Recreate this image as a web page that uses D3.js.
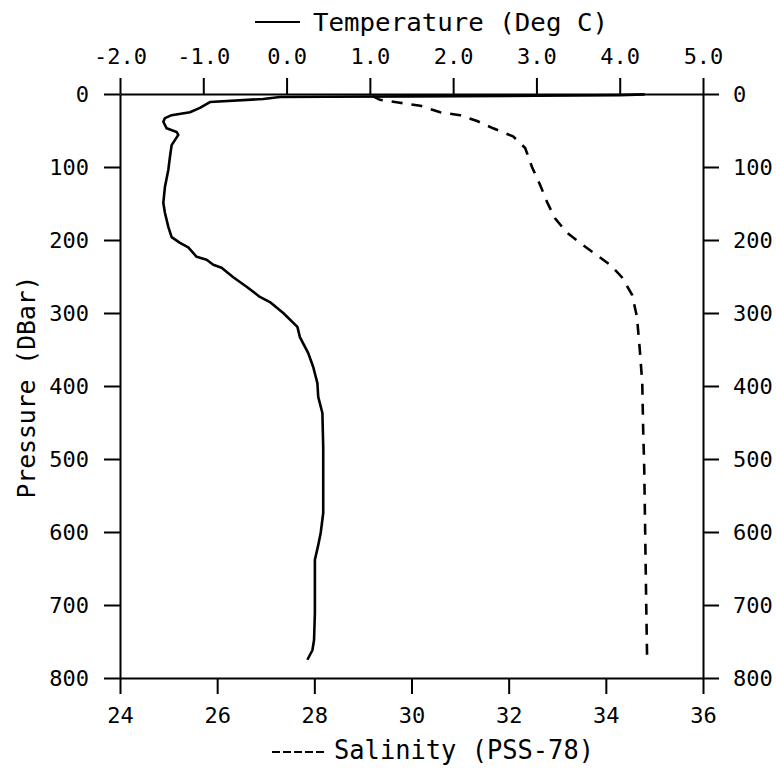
<!DOCTYPE html>
<html>
<head>
<meta charset="utf-8">
<script src="https://cdn.jsdelivr.net/npm/d3@7"></script>
<style>
  html, body { margin: 0; padding: 0; background: #fff; }
  svg text { font-family: "DejaVu Sans Mono", "Liberation Mono", monospace; fill: #000; }
</style>
</head>
<body>
<svg id="chart" width="776" height="769"></svg>
<script>
// ---- Data ----
const tempTicks = [-2, -1, 0, 1, 2, 3, 4, 5];
const salTicks = [24, 26, 28, 30, 32, 34, 36];
const pressureTicks = [0, 100, 200, 300, 400, 500, 600, 700, 800];

const tempPressure = [0.5, 1.5, 2.5, 3.2, 3.8, 4.1, 6.8, 11, 19, 25, 29, 33, 38, 47, 52, 56, 70, 86, 104, 127, 149, 163, 182, 196, 204, 210, 223, 227, 234, 238, 251, 264, 278, 285, 300, 319, 333, 355, 374, 396, 415, 437, 484, 529, 574, 601, 618, 638, 666, 711, 748, 762, 775];
const tempValues = [4.3, 4.0, 3.0, 1.5, 0.5, -0.08, -0.28, -0.92, -1.04, -1.16, -1.38, -1.46, -1.48, -1.44, -1.32, -1.30, -1.38, -1.40, -1.42, -1.46, -1.48, -1.46, -1.42, -1.38, -1.28, -1.18, -1.08, -0.96, -0.88, -0.78, -0.64, -0.48, -0.32, -0.20, -0.04, 0.13, 0.16, 0.26, 0.32, 0.37, 0.38, 0.43, 0.44, 0.44, 0.44, 0.41, 0.38, 0.34, 0.34, 0.34, 0.33, 0.31, 0.25];

const salPressure = [3, 8, 12, 16, 25, 29, 37, 47, 58, 74, 100, 125, 148, 170, 190, 204, 221, 234, 251, 275, 305, 351, 396, 464, 511, 601, 693, 775];
const salValues = [29.2, 29.35, 29.76, 30.18, 30.59, 31.00, 31.35, 31.68, 32.09, 32.34, 32.48, 32.65, 32.79, 32.95, 33.20, 33.47, 33.82, 34.09, 34.33, 34.54, 34.64, 34.70, 34.75, 34.77, 34.79, 34.81, 34.83, 34.85];

// ---- Layout ----
const L = 120, R = 703, T = 94, B = 678;
const svg = d3.select("#chart");

const xT = d3.scaleLinear().domain([-2, 5]).range([L, R]);
const xS = d3.scaleLinear().domain([24, 36]).range([L, R]);
const y = d3.scaleLinear().domain([0, 800]).range([T, B]);

function styleAxis(g) {
  g.attr("font-size", 22).attr("font-family", "DejaVu Sans Mono");
  g.selectAll("path.domain").attr("stroke", "#000").attr("stroke-width", 2);
  g.selectAll(".tick line").attr("stroke", "#000").attr("stroke-width", 2);
  g.selectAll(".tick text").attr("font-family", "DejaVu Sans Mono").attr("font-size", 22).attr("fill", "#000");
}

// Top axis (temperature)
const gTop = svg.append("g").attr("transform", `translate(0,${T})`)
  .call(d3.axisTop(xT).tickValues(tempTicks).tickFormat(d3.format(".1f")).tickSize(16).tickSizeOuter(0).tickPadding(14));
styleAxis(gTop);
gTop.selectAll(".tick text").text(d => d3.format(".1f")(d).replace("−", "-"));

// Bottom axis (salinity)
const gBot = svg.append("g").attr("transform", `translate(0,${B})`)
  .call(d3.axisBottom(xS).tickValues(salTicks).tickFormat(d3.format("d")).tickSize(16).tickSizeOuter(0));
styleAxis(gBot);
gBot.selectAll(".tick text").attr("y", 45).attr("dy", 0);

// Left axis (pressure)
const gLeft = svg.append("g").attr("transform", `translate(${L},0)`)
  .call(d3.axisLeft(y).tickValues(pressureTicks).tickFormat(d3.format("d")).tickSize(16).tickSizeOuter(0).tickPadding(15));
styleAxis(gLeft);

// Right axis (pressure)
const gRight = svg.append("g").attr("transform", `translate(${R},0)`)
  .call(d3.axisRight(y).tickValues(pressureTicks).tickFormat(d3.format("d")).tickSize(16).tickSizeOuter(0).tickPadding(14));
styleAxis(gRight);

// ---- Curves ----
const tempData = tempPressure.map((p, i) => ({ p, v: tempValues[i] }));
const salData = salPressure.map((p, i) => ({ p, v: salValues[i] }));

svg.append("path")
  .datum(tempData)
  .attr("fill", "none").attr("stroke", "#000").attr("stroke-width", 2.6)
  .attr("stroke-linejoin", "round")
  .attr("d", d3.line().x(d => xT(d.v)).y(d => y(d.p)));

svg.append("path")
  .datum(salData)
  .attr("fill", "none").attr("stroke", "#000").attr("stroke-width", 2.6)
  .attr("stroke-dasharray", "11,9")
  .attr("d", d3.line().x(d => xS(d.v)).y(d => y(d.p)));

// ---- Titles / legends ----
svg.append("line").attr("x1", 255).attr("x2", 300).attr("y1", 22).attr("y2", 22)
  .attr("stroke", "#000").attr("stroke-width", 2);
svg.append("text").attr("x", 313).attr("y", 31).attr("font-size", 25)
  .attr("textLength", 295).attr("lengthAdjust", "spacingAndGlyphs")
  .text("Temperature (Deg C)");

svg.append("line").attr("x1", 272).attr("x2", 327).attr("y1", 752).attr("y2", 752)
  .attr("stroke", "#000").attr("stroke-width", 2).attr("stroke-dasharray", "8,3");
svg.append("text").attr("x", 334).attr("y", 759).attr("font-size", 26)
  .attr("textLength", 260).attr("lengthAdjust", "spacingAndGlyphs")
  .text("Salinity (PSS-78)");

svg.append("text")
  .attr("transform", "translate(35,387) rotate(-90)")
  .attr("text-anchor", "middle").attr("font-size", 25)
  .attr("textLength", 223).attr("lengthAdjust", "spacingAndGlyphs")
  .text("Pressure (DBar)");
</script>
</body>
</html>
